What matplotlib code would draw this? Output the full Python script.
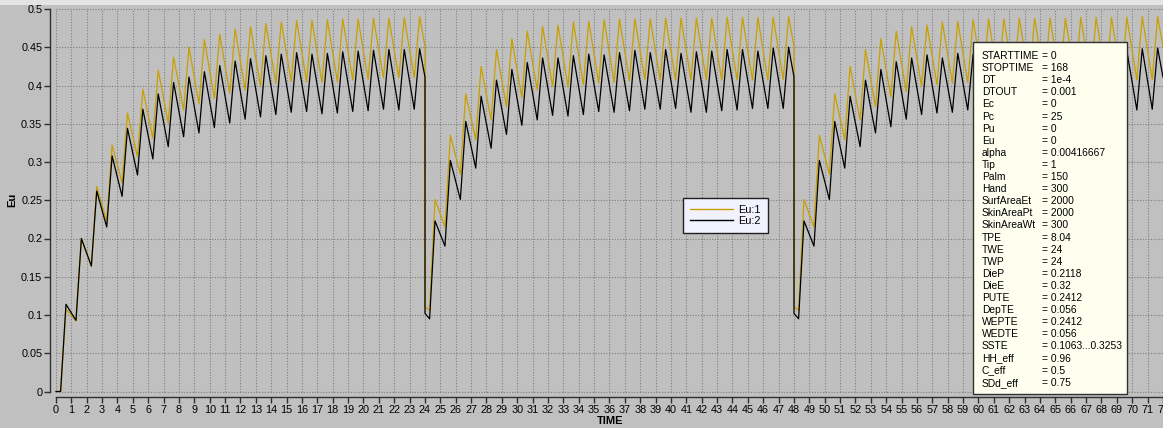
import numpy as np
import matplotlib
matplotlib.use("Agg")
import matplotlib.pyplot as plt
from matplotlib.patches import Rectangle

plt.rcParams['font.family'] = ['Liberation Sans', 'DejaVu Sans']

# ---------------------------------------------------------------- data
# Each simulated day: value at the day's start, first trough (t+0.3),
# 24 hourly peaks (t+0.65), 23 hourly troughs (t+1.3 ...), value at day end.
day_starts = [0, 24, 48]

eu1_start = [0.000, 0.111, 0.111]
eu1_first = [0.000, 0.106, 0.106]
eu1_end = [0.451, 0.451, 0.451]
eu1_peaks_d1 = [0.108, 0.200, 0.268, 0.322, 0.364, 0.395, 0.420, 0.437, 0.450, 0.460,
                0.467, 0.474, 0.477, 0.481, 0.483, 0.485, 0.485, 0.486, 0.487, 0.487,
                0.488, 0.488, 0.489, 0.490]
eu1_troughs_d1 = [0.092, 0.164, 0.222, 0.273, 0.307, 0.331, 0.351, 0.368, 0.376, 0.383,
                  0.390, 0.394, 0.399, 0.403, 0.405, 0.405, 0.404, 0.405, 0.407, 0.408,
                  0.410, 0.410, 0.410]
eu1_peaks_d2 = [0.251, 0.335, 0.389, 0.425, 0.447, 0.461, 0.471, 0.477, 0.479, 0.483,
                0.484, 0.486, 0.487, 0.487, 0.487, 0.488, 0.488, 0.488, 0.488, 0.489,
                0.489, 0.489, 0.489, 0.490]
eu1_troughs_d2 = [0.215, 0.284, 0.329, 0.355, 0.372, 0.384, 0.394, 0.399, 0.398, 0.401,
                  0.403, 0.404, 0.406, 0.408, 0.407, 0.407, 0.407, 0.407, 0.407, 0.407,
                  0.407, 0.407, 0.408]
eu1_peaks_d3 = [0.251, 0.335, 0.389, 0.425, 0.447, 0.461, 0.471, 0.477, 0.479, 0.483,
                0.484, 0.486, 0.487, 0.487, 0.488, 0.488, 0.488, 0.488, 0.489, 0.489,
                0.489, 0.489, 0.490, 0.490]
eu1_troughs_d3 = [0.215, 0.284, 0.329, 0.355, 0.372, 0.385, 0.392, 0.399, 0.401, 0.403,
                  0.404, 0.405, 0.406, 0.407, 0.407, 0.407, 0.407, 0.407, 0.407, 0.407,
                  0.407, 0.407, 0.408]

eu2_start = [0.000, 0.102, 0.102]
eu2_first = [0.000, 0.095, 0.095]
eu2_end = [0.411, 0.411, 0.411]
eu2_peaks_d1 = [0.114, 0.200, 0.262, 0.308, 0.344, 0.369, 0.389, 0.404, 0.411, 0.418,
                0.426, 0.432, 0.435, 0.439, 0.441, 0.443, 0.441, 0.442, 0.444, 0.445,
                0.446, 0.447, 0.447, 0.448]
eu2_troughs_d1 = [0.093, 0.164, 0.215, 0.255, 0.283, 0.304, 0.320, 0.333, 0.338, 0.345,
                  0.351, 0.356, 0.359, 0.362, 0.365, 0.366, 0.363, 0.364, 0.366, 0.367,
                  0.369, 0.368, 0.369]
eu2_peaks_d2 = [0.223, 0.302, 0.353, 0.386, 0.407, 0.421, 0.430, 0.436, 0.436, 0.439,
                0.441, 0.440, 0.443, 0.446, 0.443, 0.447, 0.442, 0.444, 0.445, 0.447,
                0.447, 0.445, 0.449, 0.450]
eu2_troughs_d2 = [0.190, 0.251, 0.292, 0.318, 0.336, 0.348, 0.355, 0.361, 0.360, 0.362,
                  0.366, 0.365, 0.367, 0.369, 0.369, 0.370, 0.365, 0.365, 0.367, 0.368,
                  0.370, 0.370, 0.370]
eu2_peaks_d3 = [0.223, 0.302, 0.353, 0.386, 0.407, 0.421, 0.431, 0.436, 0.440, 0.436,
                0.442, 0.441, 0.443, 0.445, 0.444, 0.446, 0.443, 0.444, 0.446, 0.447,
                0.446, 0.445, 0.448, 0.449]
eu2_troughs_d3 = [0.190, 0.251, 0.292, 0.320, 0.338, 0.346, 0.356, 0.362, 0.364, 0.365,
                  0.368, 0.366, 0.367, 0.368, 0.369, 0.369, 0.366, 0.366, 0.367, 0.368,
                  0.369, 0.368, 0.369]

series_names = ["Eu:1", "Eu:2"]
series_colors = ["#C9A000", "#000000"]

x_ticks = list(range(0, 73))
y_ticks = [0, 0.05, 0.1, 0.15, 0.2, 0.25, 0.3, 0.35, 0.4, 0.45, 0.5]
y_tick_labels = ["0", "0.05", "0.1", "0.15", "0.2", "0.25", "0.3", "0.35", "0.4", "0.45", "0.5"]

param_names = ["STARTTIME", "STOPTIME", "DT", "DTOUT", "Ec", "Pc", "Pu", "Eu", "alpha",
               "Tip", "Palm", "Hand", "SurfAreaEt", "SkinAreaPt", "SkinAreaWt", "TPE",
               "TWE", "TWP", "DieP", "DieE", "PUTE", "DepTE", "WEPTE", "WEDTE", "SSTE",
               "HH_eff", "C_eff", "SDd_eff"]
param_values = ["0", "168", "1e-4", "0.001", "0", "25", "0", "0", "0.00416667",
                "1", "150", "300", "2000", "2000", "300", "8.04",
                "24", "24", "0.2118", "0.32", "0.2412", "0.056", "0.2412", "0.056",
                "0.1063...0.3253", "0.96", "0.5", "0.75"]


def build_curve(starts, firsts, ends, peaks, troughs):
    t, v = [], []
    for d0, s, f, e, pk, tr in zip(day_starts, starts, firsts, ends, peaks, troughs):
        t += [d0, d0 + 0.3]
        v += [s, f]
        for i, p in enumerate(pk):
            t.append(d0 + i + 0.65)
            v.append(p)
            if i < len(tr):
                t.append(d0 + i + 1.3)
                v.append(tr[i])
        t.append(d0 + 24)
        v.append(e)
    return np.array(t), np.array(v)


t1, v1 = build_curve(eu1_start, eu1_first, eu1_end,
                     [eu1_peaks_d1, eu1_peaks_d2, eu1_peaks_d3],
                     [eu1_troughs_d1, eu1_troughs_d2, eu1_troughs_d3])
t2, v2 = build_curve(eu2_start, eu2_first, eu2_end,
                     [eu2_peaks_d1, eu2_peaks_d2, eu2_peaks_d3],
                     [eu2_troughs_d1, eu2_troughs_d2, eu2_troughs_d3])

# ---------------------------------------------------------------- figure
W, H = 1163, 428
BG = "#C0C0C0"
fig = plt.figure(figsize=(W / 100, H / 100), dpi=100, facecolor=BG)

# window strip along the top edge
fig.patches.append(Rectangle((0, 1 - 5 / H), 1, 5 / H, transform=fig.transFigure,
                             facecolor="#E4E4E4", edgecolor="none", zorder=0))

ax_l, ax_r, ax_b, ax_t = 50, W, 397, 5
ax = fig.add_axes([ax_l / W, 1 - ax_b / H, (ax_r - ax_l) / W, (ax_b - ax_t) / H])
ax.set_facecolor(BG)

px_per_hour = 15.39
x0_px = 56
px_per_unit = 765
y0_px = 391.5
ax.set_xlim((ax_l - x0_px) / px_per_hour, (ax_r - x0_px) / px_per_hour)
ax.set_ylim((y0_px - ax_b) / px_per_unit, (y0_px - ax_t) / px_per_unit)

# dotted grid restricted to the data range
grid_kw = dict(color="#7E7E7E", linewidth=0.8, linestyle=(0, (1, 1.5)), zorder=1)
ax.vlines(x_ticks, 0, 0.5, **grid_kw)
ax.hlines(y_ticks, 0, 72.5, **grid_kw)

l1, = ax.plot(t1, v1, color=series_colors[0], linewidth=0.9, zorder=3, label=series_names[0])
l2, = ax.plot(t2, v2, color=series_colors[1], linewidth=0.9, zorder=4, label=series_names[1])

for side in ("top", "right"):
    ax.spines[side].set_visible(False)
ax.spines["left"].set_bounds(0, 0.5)
ax.spines["bottom"].set_bounds(0, 72.5)
for side in ("left", "bottom"):
    ax.spines[side].set_color("#303030")
    ax.spines[side].set_linewidth(1.0)

ax.set_xticks(x_ticks)
ax.set_xticklabels([str(v) for v in x_ticks])
ax.set_yticks(y_ticks)
ax.set_yticklabels(y_tick_labels)
ax.tick_params(axis="both", direction="out", length=4, width=1.0, color="#303030",
               labelsize=7.8, labelcolor="#000000")
ax.tick_params(axis="x", pad=1.5)
ax.tick_params(axis="y", pad=1.5)

fig.text(12 / W, 1 - 200 / H, "Eu", rotation=90, fontsize=8, fontweight="bold",
         ha="center", va="center")
fig.text(610 / W, 1 - 421 / H, "TIME", fontsize=8, fontweight="bold",
         ha="center", va="center")

leg = ax.legend(handles=[l1, l2], loc="upper left",
                bbox_to_anchor=(683 / W, 1 - 198 / H), bbox_transform=fig.transFigure,
                fontsize=7.8, frameon=True, fancybox=False, framealpha=1,
                facecolor="#F2F2FF", edgecolor="#202020", borderaxespad=0,
                borderpad=0.65, handlelength=4.0, handletextpad=0.45, labelspacing=0.1)
leg.get_frame().set_linewidth(1.0)
leg.set_zorder(6)
for ln in leg.get_lines():
    ln.set_linewidth(1.0)

# parameter panel
bx_l, bx_r, bx_t, bx_b = 973, 1127, 42, 394
fig.patches.append(Rectangle((bx_l / W, 1 - bx_b / H), (bx_r - bx_l) / W, (bx_b - bx_t) / H,
                             transform=fig.transFigure, facecolor="#FFFFF0",
                             edgecolor="#303030", linewidth=1.0, zorder=10))
row0, row_h = 56, 12.1
for i, (n, v) in enumerate(zip(param_names, param_values)):
    y = 1 - (row0 + i * row_h) / H
    fig.text(982 / W, y, n, fontsize=7.4, ha="left", va="center", zorder=11)
    fig.text(1042 / W, y, "= " + v, fontsize=7.4, ha="left", va="center", zorder=11)

fig.savefig("out.png", dpi=100, facecolor=BG)
